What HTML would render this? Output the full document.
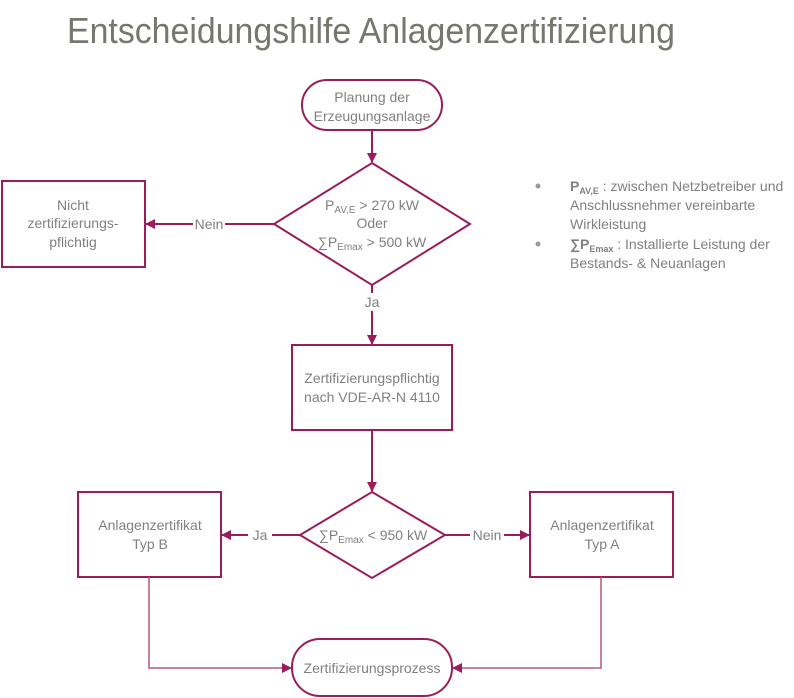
<!DOCTYPE html>
<html><head><meta charset="utf-8"><style>
html,body{margin:0;padding:0;background:#fff;}
svg{display:block;font-family:"Liberation Sans",sans-serif;}
.t{fill:#808080;font-size:14px;}
</style></head><body>
<svg width="794" height="698" viewBox="0 0 794 698">
<defs>
<marker id="a" markerWidth="10" markerHeight="10" refX="9" refY="5" orient="auto" markerUnits="userSpaceOnUse">
<path d="M0,0 L10,5 L0,10 Z" fill="#9a1c5a"/></marker>
</defs>
<text x="67" y="43" font-size="36" fill="#77776e" textLength="608" lengthAdjust="spacingAndGlyphs">Entscheidungshilfe Anlagenzertifizierung</text>
<g fill="none" stroke="#9a1c5a" stroke-width="2">
<rect x="302" y="80" width="140" height="50" rx="25"/>
<polygon points="372,163 470,224 372,285 274,224"/>
<rect x="2" y="181" width="143" height="86"/>
<rect x="292" y="345" width="160" height="85"/>
<polygon points="372,492 445,535 372,578 300,535"/>
<rect x="78" y="492" width="143" height="85"/>
<rect x="530" y="492" width="143" height="85"/>
<rect x="292" y="639" width="160" height="57" rx="28"/>
<line x1="372" y1="130" x2="372" y2="162" marker-end="url(#a)"/>
<line x1="274" y1="224" x2="146" y2="224" marker-end="url(#a)"/>
<line x1="372" y1="285" x2="372" y2="344" marker-end="url(#a)"/>
<line x1="372" y1="430" x2="372" y2="491" marker-end="url(#a)"/>
<line x1="300" y1="535" x2="222" y2="535" marker-end="url(#a)"/>
<line x1="445" y1="535" x2="529" y2="535" marker-end="url(#a)"/>
</g>
<g fill="none" stroke="#b5577f" stroke-width="1.5">
<polyline points="149,577 149,668 291,668" marker-end="url(#a)"/>
<polyline points="601,577 601,668 453,668" marker-end="url(#a)"/>
</g>
<g class="t" text-anchor="middle">
<text x="372" y="102">Planung der</text>
<text x="372" y="121">Erzeugungsanlage</text>
<text x="372" y="210">P<tspan font-size="10" dy="3">AV,E</tspan><tspan dy="-3"> &gt; 270 kW</tspan></text>
<text x="372" y="228">Oder</text>
<text x="372" y="247">∑P<tspan font-size="10" dy="3">Emax</tspan><tspan dy="-3"> &gt; 500 kW</tspan></text>
<text x="73" y="210">Nicht</text>
<text x="73" y="228">zertifizierungs-</text>
<text x="73" y="247">pflichtig</text>
<rect x="193" y="215" width="32" height="18" fill="#fff"/>
<text x="209" y="229">Nein</text>
<rect x="360" y="293" width="24" height="18" fill="#fff"/>
<text x="372" y="307">Ja</text>
<text x="372" y="383">Zertifizierungspflichtig</text>
<text x="372" y="402">nach VDE-AR-N 4110</text>
<text x="373" y="540">∑P<tspan font-size="10" dy="3">Emax</tspan><tspan dy="-3"> &lt; 950 kW</tspan></text>
<rect x="248" y="526" width="24" height="18" fill="#fff"/>
<text x="260" y="540">Ja</text>
<rect x="470" y="526" width="34" height="18" fill="#fff"/>
<text x="487" y="540">Nein</text>
<text x="150" y="530">Anlagenzertifikat</text>
<text x="150" y="549">Typ B</text>
<text x="602" y="530">Anlagenzertifikat</text>
<text x="602" y="549">Typ A</text>
<text x="372" y="673">Zertifizierungsprozess</text>
</g>
<g class="t" font-size="13">
<circle cx="538" cy="186" r="2.5" fill="#999"/>
<circle cx="538" cy="244" r="2.5" fill="#999"/>
<text x="570" y="191"><tspan font-weight="bold">P</tspan><tspan font-size="9" font-weight="bold" dy="3">AV,E</tspan><tspan dy="-3"> : zwischen Netzbetreiber und</tspan></text>
<text x="570" y="210">Anschlussnehmer vereinbarte</text>
<text x="570" y="229">Wirkleistung</text>
<text x="570" y="249"><tspan font-weight="bold">∑P</tspan><tspan font-size="9" font-weight="bold" dy="3">Emax</tspan><tspan dy="-3"> : Installierte Leistung der</tspan></text>
<text x="570" y="268">Bestands- &amp; Neuanlagen</text>
</g>
</svg>
</body></html>
